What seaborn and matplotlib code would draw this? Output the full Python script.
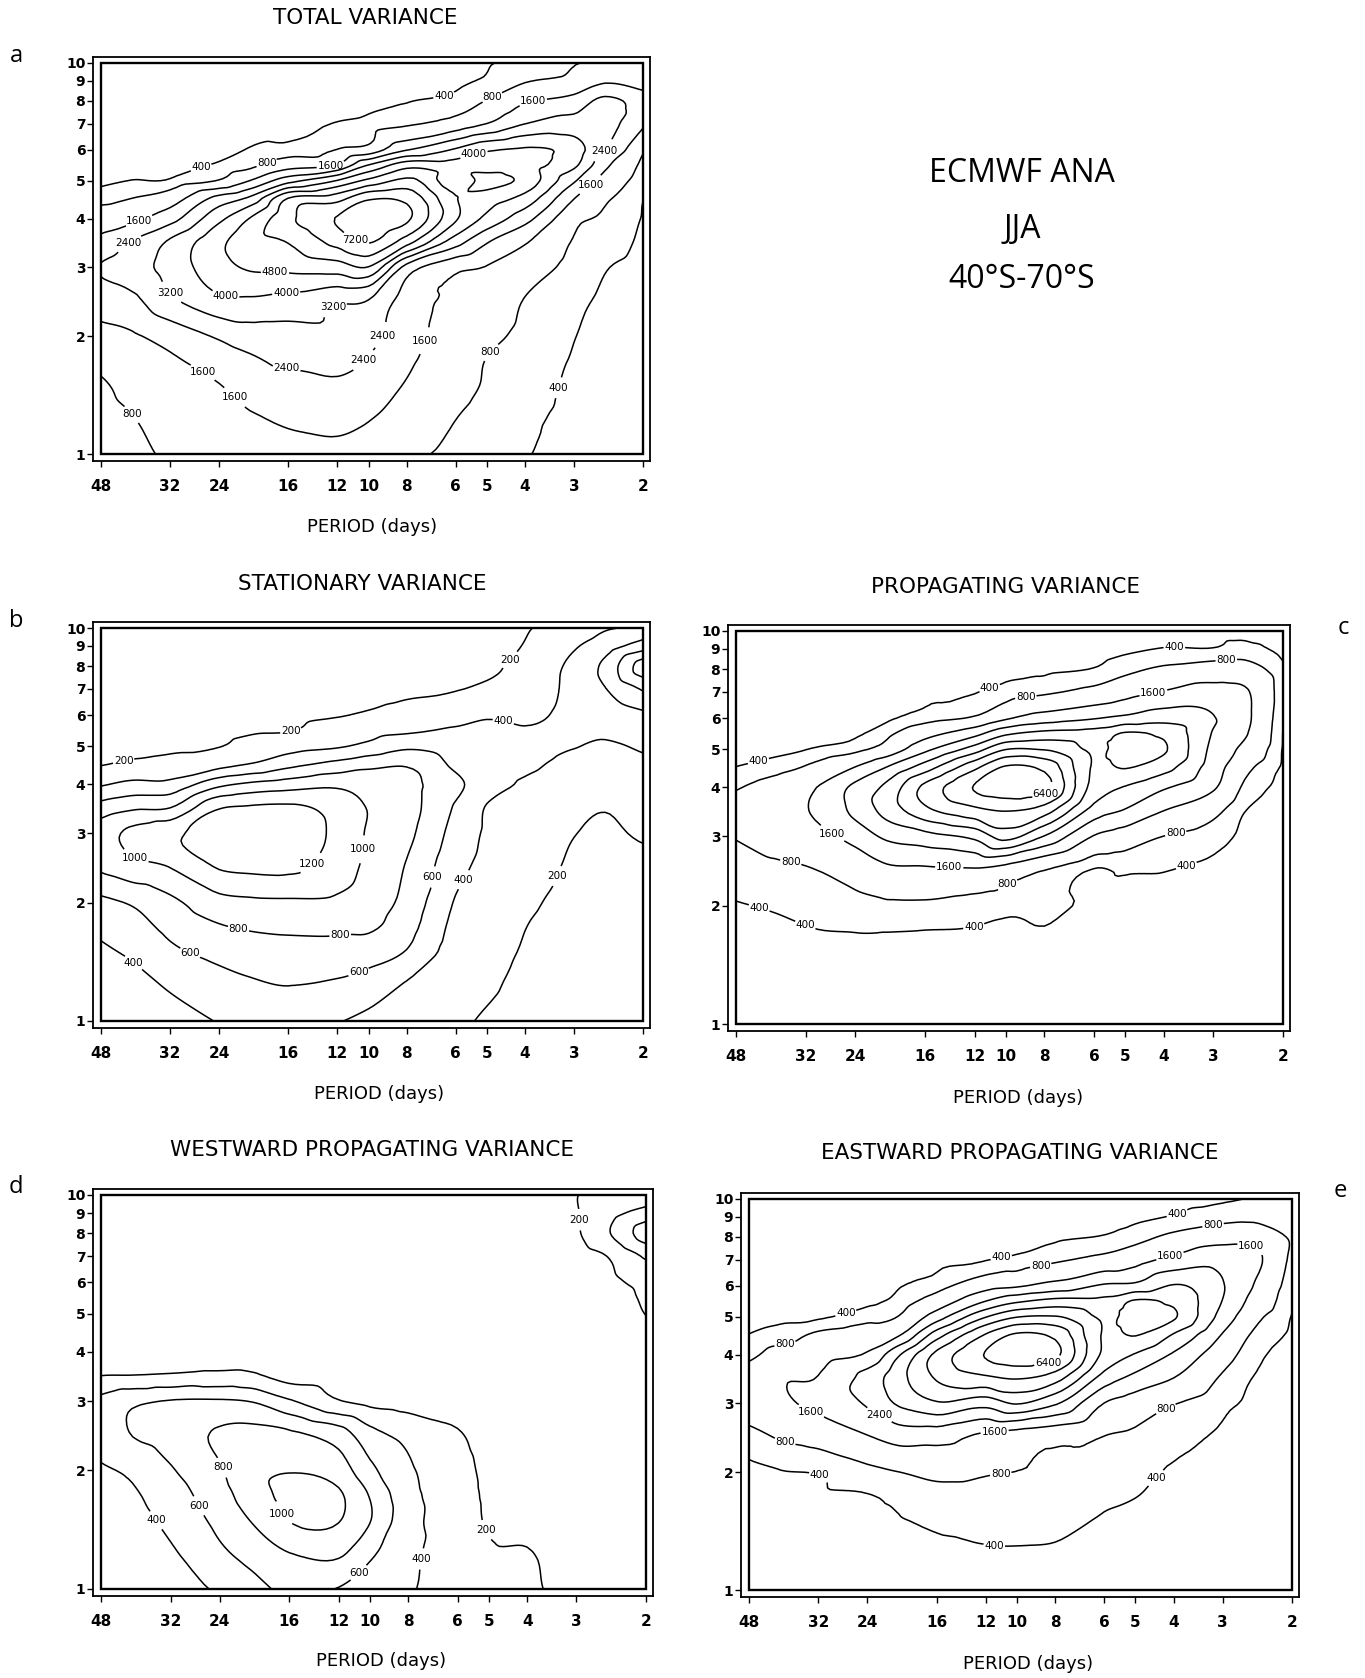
import numpy as np
import matplotlib
matplotlib.use("Agg")
import matplotlib.pyplot as plt
import matplotlib.tri as mtri
from matplotlib.patches import Rectangle
import seaborn as sns

# ---------------- data ----------------
PERIODS = [48, 40, 32, 24, 20, 16, 12, 10, 8, 6, 5, 4, 3, 2.5, 2]
WAVENUMBERS = [1, 1.25, 1.5, 1.75, 2, 2.5, 3, 3.5, 4, 4.5, 5, 5.5, 6, 7, 8, 9, 10]
PERIOD_TICKS = [48, 32, 24, 16, 12, 10, 8, 6, 5, 4, 3, 2]
WAVE_TICKS = [1, 2, 3, 4, 5, 6, 7, 8, 9, 10]

# each inner list = one period column, values from wavenumber 1 (bottom) to 10 (top)
TOTAL_BY_PERIOD = [
    [500, 620, 720, 1000, 1350, 2000, 2450, 1800, 1200, 620, 330, 260, 220, 160, 120, 100, 90],
    [650, 790, 1000, 1250, 1500, 2250, 2850, 2420, 1400, 810, 410, 300, 250, 180, 130, 110, 95],
    [900, 1100, 1300, 1500, 1900, 3100, 3500, 3300, 2100, 1200, 450, 340, 300, 200, 145, 115, 100],
    [1200, 1400, 1580, 2000, 2500, 3900, 4500, 4600, 3800, 2700, 850, 450, 300, 200, 160, 130, 110],
    [1350, 1550, 1950, 2300, 2800, 3950, 4900, 5300, 4850, 3400, 1620, 600, 430, 260, 180, 150, 130],
    [1450, 1700, 2050, 2600, 2900, 3800, 5000, 5650, 6200, 5650, 2900, 1200, 550, 300, 200, 165, 140],
    [1450, 1800, 2250, 2700, 2950, 3400, 5200, 6700, 7250, 6100, 4050, 1620, 820, 420, 220, 185, 160],
    [1350, 1650, 2000, 2350, 2650, 3250, 5550, 7300, 7700, 7100, 5000, 3150, 1100, 550, 280, 210, 190],
    [950, 1350, 1550, 1750, 1900, 2100, 2900, 6000, 7350, 7000, 5800, 4400, 2350, 700, 380, 260, 230],
    [700, 820, 1000, 1150, 1250, 1400, 1800, 3600, 4900, 4850, 4300, 4300, 3300, 1100, 520, 330, 300],
    [580, 650, 750, 790, 950, 1200, 1550, 2500, 3800, 4400, 5050, 4400, 3900, 1600, 820, 450, 380],
    [420, 460, 520, 600, 680, 790, 1150, 1700, 2700, 3700, 4550, 4300, 4100, 2380, 1500, 750, 500],
    [330, 350, 360, 380, 410, 480, 620, 760, 1000, 1620, 2500, 3400, 3600, 2700, 1900, 1000, 750],
    [280, 290, 300, 310, 320, 360, 420, 580, 720, 900, 1300, 1800, 2420, 2700, 2600, 1500, 900],
    [250, 255, 260, 265, 270, 280, 300, 340, 380, 420, 500, 650, 900, 1700, 2000, 1200, 850],
]
STATIONARY_BY_PERIOD = [
    [250, 300, 370, 450, 550, 850, 900, 680, 380, 190, 150, 120, 100, 80, 60, 50, 40],
    [280, 340, 430, 520, 620, 950, 1050, 760, 450, 230, 160, 130, 110, 85, 65, 55, 45],
    [330, 430, 560, 660, 750, 1020, 1150, 790, 460, 260, 170, 140, 120, 90, 70, 55, 45],
    [410, 530, 660, 790, 930, 1230, 1300, 1180, 750, 330, 195, 160, 130, 100, 75, 60, 50],
    [470, 580, 700, 830, 960, 1260, 1350, 1220, 840, 410, 260, 180, 150, 110, 80, 65, 55],
    [500, 610, 720, 850, 970, 1260, 1330, 1230, 900, 540, 320, 190, 160, 120, 85, 70, 60],
    [410, 580, 720, 850, 960, 1100, 1150, 1120, 960, 660, 380, 280, 190, 140, 100, 80, 70],
    [350, 520, 690, 840, 900, 960, 980, 990, 920, 740, 450, 320, 220, 150, 110, 90, 75],
    [280, 390, 590, 680, 740, 790, 850, 880, 860, 780, 560, 360, 260, 170, 120, 95, 80],
    [230, 270, 310, 350, 385, 470, 530, 580, 650, 560, 500, 420, 330, 190, 130, 100, 85],
    [180, 230, 270, 300, 320, 350, 375, 390, 480, 470, 470, 440, 380, 230, 160, 120, 100],
    [130, 160, 185, 205, 230, 270, 300, 330, 380, 430, 450, 410, 370, 300, 260, 210, 180],
    [100, 110, 125, 140, 155, 180, 205, 260, 310, 360, 405, 420, 430, 450, 450, 380, 300],
    [90, 95, 100, 110, 120, 140, 170, 210, 280, 340, 380, 430, 480, 590, 650, 500, 380],
    [80, 85, 90, 100, 110, 140, 230, 290, 330, 370, 420, 480, 560, 820, 1100, 700, 450],
]
PROPAGATING_BY_PERIOD = [
    [150, 200, 260, 330, 380, 600, 830, 1050, 750, 410, 250, 180, 140, 100, 80, 60, 50],
    [160, 220, 290, 350, 420, 700, 1000, 1200, 1000, 560, 270, 200, 150, 110, 85, 65, 55],
    [180, 250, 320, 390, 480, 780, 1200, 1550, 1400, 850, 390, 260, 190, 130, 95, 75, 60],
    [220, 300, 370, 420, 650, 1100, 1900, 2600, 2600, 1620, 650, 330, 220, 150, 105, 80, 65],
    [230, 310, 380, 420, 700, 1500, 2550, 3500, 3400, 2420, 1100, 650, 330, 200, 130, 95, 75],
    [240, 300, 350, 410, 700, 1550, 2900, 4600, 5000, 3600, 2200, 1300, 600, 330, 200, 130, 100],
    [250, 290, 330, 390, 580, 1620, 3400, 5400, 6450, 5400, 3600, 2100, 900, 380, 230, 150, 110],
    [250, 280, 310, 360, 500, 1400, 4300, 5650, 6900, 6500, 4780, 3000, 1500, 560, 290, 180, 120],
    [220, 260, 300, 390, 520, 900, 3150, 5200, 6700, 6200, 4750, 3400, 2000, 700, 330, 200, 140],
    [180, 200, 230, 270, 320, 420, 1550, 2900, 3700, 3900, 3850, 3500, 2350, 1000, 420, 250, 160],
    [170, 190, 210, 240, 300, 480, 1200, 2350, 3150, 4050, 4300, 4050, 2600, 1300, 650, 330, 200],
    [150, 160, 180, 210, 280, 430, 790, 1620, 2500, 3500, 4100, 3800, 2900, 1650, 900, 420, 260],
    [120, 130, 150, 170, 220, 330, 560, 1000, 1700, 2000, 2200, 2350, 2450, 1900, 1100, 420, 300],
    [110, 120, 130, 145, 170, 240, 330, 420, 700, 1000, 1400, 1700, 1800, 1700, 1100, 500, 320],
    [100, 105, 110, 120, 130, 160, 200, 250, 300, 340, 370, 390, 420, 500, 480, 330, 260],
]
WESTWARD_BY_PERIOD = [
    [220, 260, 300, 340, 380, 480, 450, 190, 120, 80, 60, 50, 40, 30, 25, 20, 20],
    [260, 300, 340, 380, 430, 610, 560, 195, 120, 80, 60, 50, 40, 30, 25, 20, 20],
    [320, 380, 450, 510, 580, 690, 610, 210, 130, 85, 60, 50, 40, 30, 25, 20, 20],
    [430, 570, 660, 730, 780, 820, 620, 230, 140, 90, 65, 50, 40, 30, 25, 20, 20],
    [520, 680, 810, 900, 940, 850, 590, 220, 140, 90, 65, 50, 40, 30, 25, 20, 20],
    [650, 810, 1010, 1050, 990, 820, 420, 120, 100, 80, 60, 50, 40, 30, 25, 20, 20],
    [590, 850, 1010, 1020, 900, 680, 210, 110, 90, 75, 60, 50, 40, 30, 25, 20, 20],
    [480, 650, 810, 780, 650, 450, 150, 100, 85, 70, 55, 45, 40, 30, 25, 20, 20],
    [420, 450, 470, 460, 430, 330, 130, 90, 80, 65, 55, 45, 40, 30, 25, 20, 20],
    [290, 300, 300, 290, 270, 210, 130, 80, 70, 60, 50, 45, 40, 35, 30, 25, 25],
    [240, 215, 180, 170, 160, 130, 100, 75, 65, 55, 50, 45, 40, 40, 40, 40, 40],
    [220, 205, 150, 140, 130, 110, 90, 70, 60, 55, 50, 50, 50, 60, 70, 80, 90],
    [150, 130, 120, 110, 100, 90, 80, 65, 60, 60, 60, 70, 80, 120, 180, 190, 195],
    [120, 110, 100, 95, 90, 80, 70, 60, 60, 80, 90, 110, 150, 205, 380, 330, 230],
    [100, 90, 85, 80, 75, 70, 65, 60, 70, 150, 205, 230, 260, 430, 700, 480, 260],
]
EASTWARD_BY_PERIOD = [
    [150, 200, 260, 320, 330, 650, 1150, 1150, 650, 410, 250, 180, 140, 100, 80, 60, 50],
    [180, 230, 290, 340, 380, 900, 1450, 1500, 1050, 550, 330, 220, 160, 110, 85, 65, 55],
    [200, 260, 320, 370, 420, 1100, 1800, 1620, 1300, 900, 340, 240, 180, 120, 90, 70, 60],
    [240, 300, 350, 390, 640, 1620, 2500, 2700, 1700, 1200, 600, 320, 220, 140, 100, 80, 65],
    [260, 320, 380, 480, 790, 2000, 3300, 3700, 3100, 1500, 820, 520, 370, 200, 130, 95, 75],
    [300, 370, 440, 650, 950, 2000, 3900, 4900, 5000, 3600, 2000, 1100, 600, 330, 200, 140, 110],
    [300, 380, 480, 650, 850, 1500, 3500, 5500, 6450, 5650, 3950, 2350, 1300, 380, 230, 160, 120],
    [290, 380, 500, 650, 790, 1300, 4050, 5700, 6900, 6500, 4750, 3000, 1500, 500, 280, 180, 130],
    [280, 370, 480, 620, 750, 1100, 3300, 5200, 6600, 6200, 4850, 3400, 1900, 700, 340, 210, 150],
    [230, 300, 370, 460, 560, 830, 1580, 2900, 3800, 3900, 3850, 3400, 2500, 1000, 430, 260, 170],
    [210, 270, 330, 410, 500, 720, 1200, 2200, 3150, 4050, 4300, 4050, 2600, 1300, 600, 330, 200],
    [180, 220, 260, 310, 360, 530, 830, 1620, 2300, 3150, 4100, 3800, 3250, 1800, 950, 430, 280],
    [150, 170, 200, 240, 280, 360, 490, 730, 1100, 1550, 2100, 2380, 2450, 2100, 1300, 600, 350],
    [130, 140, 160, 180, 210, 270, 340, 390, 520, 720, 1000, 1350, 1580, 1800, 1300, 650, 420],
    [110, 115, 120, 130, 150, 180, 210, 240, 280, 330, 380, 440, 500, 650, 700, 550, 420],
]

LEVELS_BIG = [400, 800, 1600, 2400, 3200, 4000, 4800, 5600, 6400, 7200]
LEVELS_STAT = [200, 400, 600, 800, 1000, 1200]
LEVELS_WEST = [200, 400, 600, 800, 1000]

TITLES = ["TOTAL VARIANCE", "STATIONARY VARIANCE", "PROPAGATING VARIANCE",
          "WESTWARD PROPAGATING VARIANCE", "EASTWARD PROPAGATING VARIANCE"]
INFO_LINES = ["ECMWF ANA", "JJA", "40°S-70°S"]
XLABEL = "PERIOD (days)"

# contour-label anchor spots (period, wavenumber) as placed in the original figure
LABEL_SPOTS = {
    "a": [(27, 5.57), (18.1, 5.5), (12.5, 5.5), (6.5, 8.56), (4.9, 8.38), (3.79, 7.72),
          (5.4, 5.87), (2.53, 5.99), (2.73, 4.9), (38.5, 3.98), (40.5, 3.43), (10.5, 3.69),
          (17.3, 2.87), (32.2, 2.56), (23.1, 2.56), (16.2, 2.56), (12.5, 2.48), (9.75, 2.05),
          (10.5, 1.77), (16.2, 1.63), (7.45, 1.97), (4.79, 1.79), (3.43, 1.5), (26.3, 1.63),
          (22.5, 1.36), (40.5, 1.25)],
    "b": [(42.0, 4.57), (15.8, 5.51), (4.5, 8.55), (4.5, 5.99), (39.5, 2.57), (14.3, 2.57),
          (10.9, 2.75), (21.4, 1.73), (11.8, 1.64), (28.3, 1.51), (40.5, 1.37), (10.5, 1.3),
          (7.45, 2.36), (5.82, 2.31), (3.39, 2.36)],
    "c": [(42.1, 4.65), (10.9, 6.99), (8.9, 6.7), (3.76, 9.18), (2.78, 8.35), (4.27, 7.14),
          (7.97, 3.89), (28, 2.96), (35.2, 2.45), (13.9, 2.53), (10.0, 2.31), (3.76, 3.16),
          (3.5, 2.51), (42.1, 1.95), (31.9, 1.81), (12.1, 1.79)],
    "d": [(2.84, 8.66), (23.5, 2.04), (26.7, 1.64), (34.3, 1.51), (16.5, 1.56), (5.17, 1.4),
          (7.73, 1.2), (10.5, 1.08)],
    "e": [(3.95, 9.43), (3.18, 8.67), (2.52, 7.73), (10.97, 7.1), (8.72, 6.82), (4.1, 7.25),
          (27.2, 5.08), (39, 4.34), (8.39, 3.91), (33.4, 2.86), (22.4, 2.8), (11.4, 2.54),
          (4.26, 3.01), (39, 2.37), (11, 1.98), (31.8, 1.96), (4.54, 1.98), (11.4, 1.36)],
}

# ---------------- style ----------------
sns.set_theme(style="white")
plt.rcParams["font.family"] = ["DejaVu Sans"]

FW, FH = 1365, 1678
fig = plt.figure(figsize=(FW / 100, FH / 100), dpi=100)
fig.patch.set_facecolor("white")


def make_axes(inner, gaps=(8, 7, 6, 7)):
    x0, y0, x1, y1 = inner
    gl, gr, gt, gb = gaps
    ox0, ox1, oy0, oy1 = x0 - gl, x1 + gr, y0 - gt, y1 + gb
    ax = fig.add_axes([ox0 / FW, 1 - oy1 / FH, (ox1 - ox0) / FW, (oy1 - oy0) / FH])
    ax.set_xscale("log")
    ax.set_yscale("log")
    ppl = (x1 - x0) / np.log(PERIOD_TICKS[0] / PERIOD_TICKS[-1])
    ppd = (y1 - y0) / np.log10(WAVE_TICKS[-1] / WAVE_TICKS[0])
    ax.set_xlim(PERIOD_TICKS[0] * np.exp(gl / ppl), PERIOD_TICKS[-1] / np.exp(gr / ppl))
    ax.set_ylim(WAVE_TICKS[0] / 10 ** (gb / ppd), WAVE_TICKS[-1] * 10 ** (gt / ppd))
    for s in ax.spines.values():
        s.set_linewidth(1.3)
        s.set_color("black")
    ax.add_patch(Rectangle((PERIOD_TICKS[-1], WAVE_TICKS[0]),
                           PERIOD_TICKS[0] - PERIOD_TICKS[-1], WAVE_TICKS[-1] - WAVE_TICKS[0],
                           fill=False, lw=1.7, ec="black", zorder=3))
    ax.set_xticks(PERIOD_TICKS)
    ax.set_xticklabels([f"{p:g}" for p in PERIOD_TICKS], fontweight="bold")
    ax.set_yticks(WAVE_TICKS)
    ax.set_yticklabels([f"{k:g}" for k in WAVE_TICKS], fontweight="bold")
    ax.minorticks_off()
    ax.tick_params(axis="x", direction="out", length=4, width=1.0, pad=9, labelsize=11,
                   bottom=True, top=False, colors="black")
    ax.tick_params(axis="y", direction="out", length=4, width=1.0, pad=1.5, labelsize=10,
                   left=True, right=False, colors="black")
    ax.set_facecolor("white")
    ax.grid(False)
    return ax


def draw(ax, cols, levels, spots):
    Z = np.array(cols, dtype=float).T
    # triangulate the grid in log space (the plotting space) and let matplotlib
    # refine it so the contour lines come out as smooth curves
    LX, LY = np.meshgrid(np.log(PERIODS), np.log10(WAVENUMBERS))
    tri = mtri.Triangulation(LX.ravel(), LY.ravel())
    interp = mtri.CubicTriInterpolator(tri, Z.ravel(), kind="geom")
    tri_r, z_r = mtri.UniformTriRefiner(tri).refine_field(Z.ravel(), triinterpolator=interp, subdiv=3)
    tri_plot = mtri.Triangulation(np.exp(tri_r.x), 10 ** tri_r.y, tri_r.triangles)
    cs = ax.tricontour(tri_plot, z_r, levels=levels, colors="black", linewidths=1.1)
    texts = ax.clabel(cs, fmt="%d", fontsize=7.5, inline=True, inline_spacing=1, manual=spots)
    for t in texts:
        t.set_rotation(0)
    return cs


INNER = {
    "a": (101, 63, 643, 454),
    "b": (101, 628, 643, 1021),
    "c": (736, 631, 1283, 1024),
    "d": (101, 1195, 646, 1589),
    "e": (749, 1199, 1292, 1590),
}

panels = [
    ("a", TOTAL_BY_PERIOD, LEVELS_BIG),
    ("b", STATIONARY_BY_PERIOD, LEVELS_STAT),
    ("c", PROPAGATING_BY_PERIOD, LEVELS_BIG[:-1]),
    ("d", WESTWARD_BY_PERIOD, LEVELS_WEST),
    ("e", EASTWARD_BY_PERIOD, LEVELS_BIG[:-1]),
]

title_pos = {"a": (365, 18), "b": (362, 584), "c": (1005, 587), "d": (372, 1150), "e": (1020, 1153)}
xlabel_pos = {"a": (372, 527), "b": (379, 1094), "c": (1018, 1098), "d": (381, 1661), "e": (1028, 1664)}
letter_pos = {"a": (16, 56), "b": (16, 621), "c": (1343, 628), "d": (16, 1187), "e": (1340, 1191)}

for (key, cols, levels), title in zip(panels, TITLES):
    ax = make_axes(INNER[key])
    draw(ax, cols, levels, LABEL_SPOTS[key])
    tx, ty = title_pos[key]
    fig.text(tx / FW, 1 - ty / FH, title, ha="center", va="center", fontsize=15.5, color="black")
    lx, ly = xlabel_pos[key]
    fig.text(lx / FW, 1 - ly / FH, XLABEL, ha="center", va="center", fontsize=13, color="black")
    px, py = letter_pos[key]
    fig.text(px / FW, 1 - py / FH, key, ha="center", va="center", fontsize=17,
             family=["Open Sans", "DejaVu Sans"], color="black")

for line, y in zip(INFO_LINES, [174, 229, 280]):
    fig.text(1022 / FW, 1 - y / FH, line, ha="center", va="center", fontsize=23,
             family=["Open Sans", "DejaVu Sans"], color="black")

fig.savefig("out.png", dpi=100, facecolor="white")
